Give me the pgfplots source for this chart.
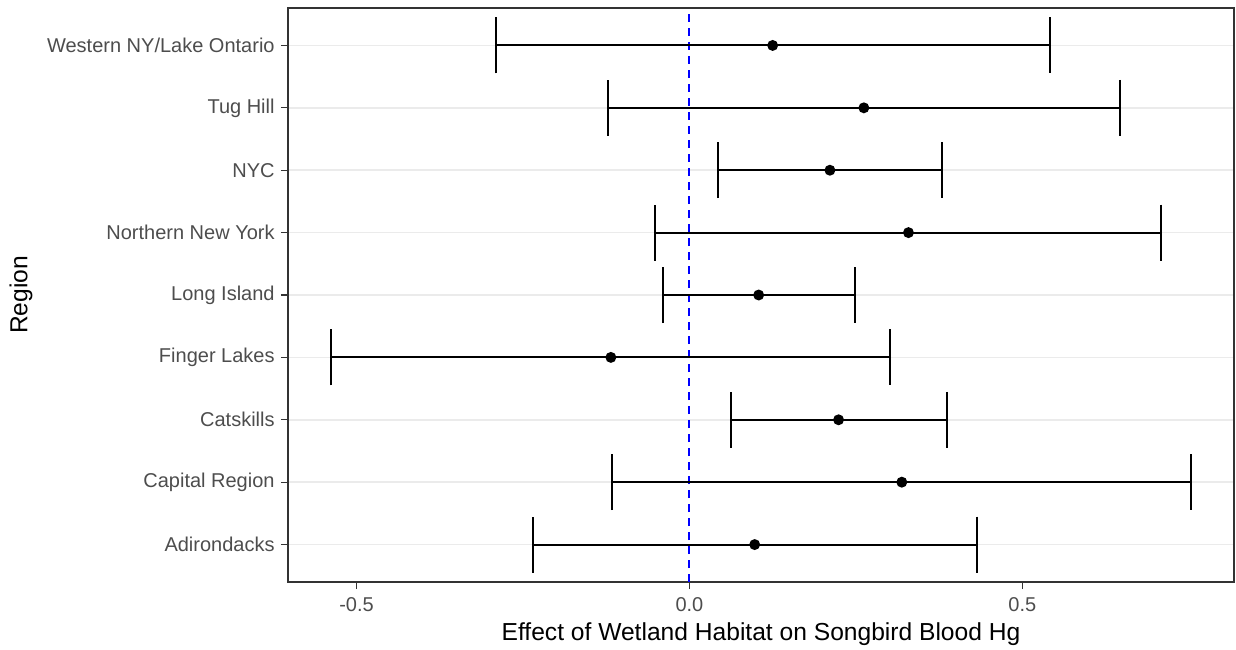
\documentclass[border=0pt]{standalone}
\usepackage{fontspec}
\setmainfont{Liberation Sans}
\usepackage{pgfplots}
\pgfplotsset{compat=1.18}
\usepackage{pgfplotstable}
\definecolor{tickgray}{HTML}{4D4D4D}
\definecolor{bordergray}{HTML}{333333}
\definecolor{gridgray}{HTML}{EBEBEB}
\pgfplotstableread{
y est lo hi
1 0.098 -0.235 0.432
2 0.319 -0.116 0.753
3 0.224 0.062 0.387
4 -0.118 -0.539 0.301
5 0.104 -0.040 0.248
6 0.329 -0.051 0.709
7 0.211 0.043 0.379
8 0.262 -0.122 0.646
9 0.125 -0.291 0.542
}\datatable
\begin{document}
\begin{tikzpicture}
\begin{axis}[
  at={(0,0)}, anchor=south west,
  width=473pt, height=287pt, scale only axis,
  xmin=-0.603, xmax=0.818, ymin=0.4, ymax=9.6,
  xtick={-0.5,0,0.5}, xticklabels={-0.5,0.0,0.5},
  ytick={1,2,3,4,5,6,7,8,9},
  yticklabels={Adirondacks,Capital Region,Catskills,Finger Lakes,Long Island,Northern New York,NYC,Tug Hill,Western NY/Lake Ontario},
  tick align=outside, major tick length=3.5pt,
  tick style={color=bordergray, line width=0.6pt},
  xtick pos=bottom, ytick pos=left,
  axis line style={color=bordergray, line width=0.6pt},
  ymajorgrids, xmajorgrids=false,
  grid style={color=gridgray, line width=0.8pt},
  every tick label/.append style={font=\fontsize{10}{12}\selectfont, color=tickgray, inner sep=0pt},
  xticklabel style={anchor=north, yshift=-3.9pt},
  yticklabel style={anchor=east, xshift=-3pt},
  xlabel={Effect of Wetland Habitat on Songbird Blood Hg},
  ylabel={Region},
  label style={font=\fontsize{12.3}{14}\selectfont, color=black, inner sep=0pt},
  xlabel style={at={(axis description cs:0.5,-0.091)}, anchor=center},
  ylabel style={at={(axis description cs:-0.2822,0.5)}, anchor=center, rotate=0},
  clip=false,
]
\addplot[draw=blue, line width=1pt, dash pattern=on 4pt off 3pt, mark=none, forget plot] coordinates {(0,0.4) (0,9.6)};
\addplot[black, line width=1pt, only marks, mark=*, mark size=2.2pt,
  error bars/.cd, x dir=both, x explicit,
  error mark=|, error mark options={mark size=14pt, line width=1pt, draw=black},
  error bar style={line width=1pt, draw=black}]
  table[x=est, y=y, x error plus expr=\thisrow{hi}-\thisrow{est}, x error minus expr=\thisrow{est}-\thisrow{lo}] {\datatable};
\end{axis}
\path[use as bounding box] (-144pt,-33.5pt) rectangle (474pt,291pt);
\end{tikzpicture}
\end{document}
